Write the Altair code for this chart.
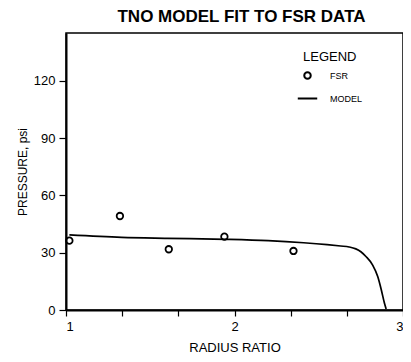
import altair as alt
import pandas as pd

title_text = "TNO MODEL FIT TO FSR DATA"
x_title = "RADIUS RATIO"
y_title = "PRESSURE, psi"
legend_title = "LEGEND"
legend_labels = ["FSR", "MODEL"]

fsr_x = [1.02, 1.32, 1.61, 1.94, 2.35]
fsr_y = [36.3, 49.2, 31.8, 38.4, 30.9]

model_x = [1.02, 1.33, 1.60, 1.95, 2.20, 2.41, 2.55, 2.63, 2.68, 2.72, 2.75,
           2.78, 2.82, 2.85, 2.87, 2.89, 2.90]
model_y = [39.3, 38.0, 37.5, 37.0, 36.3, 35.2, 34.2, 33.5, 33.0, 32.0, 30.5,
           28.0, 23.5, 17.5, 11.0, 3.5, 0.5]

x_ticks = [1, 4 / 3, 5 / 3, 2, 7 / 3, 8 / 3, 3]
y_ticks = [0, 30, 60, 90, 120]

FONT = "Liberation Sans"

pts = pd.DataFrame({"x": fsr_x, "y": fsr_y, "series": ["FSR"] * len(fsr_x)})
mdl = pd.DataFrame({"x": model_x, "y": model_y})

x_scale = alt.Scale(domain=[1, 3], nice=False, zero=False)
y_scale = alt.Scale(domain=[0, 145], nice=False)

x_axis = alt.Axis(
    values=x_ticks, title=x_title, grid=False, tickSize=6, tickWidth=1.2,
    labelExpr="abs(datum.value - round(datum.value)) < 0.01 ? format(datum.value, 'd') : ''",
    labelFontSize=13, titleFontSize=13, titleFontWeight="normal",
    labelPadding=4, titleY=37, titleBaseline="middle", domainWidth=2,
)
y_axis = alt.Axis(
    values=y_ticks, title=y_title, grid=False, tickSize=7, tickWidth=1.2,
    labelFontSize=13, titleFontSize=12, titleFontWeight="normal",
    labelPadding=4, titleX=-44, titleBaseline="middle", domainWidth=2,
)

line = alt.Chart(mdl).mark_line(color="black", strokeWidth=1.7, interpolate="monotone").encode(
    x=alt.X("x:Q", scale=x_scale, axis=x_axis),
    y=alt.Y("y:Q", scale=y_scale, axis=y_axis),
)

points = alt.Chart(pts).mark_point(
    filled=False, color="black", strokeWidth=1.8, size=42, opacity=1
).encode(
    x=alt.X("x:Q", scale=x_scale),
    y=alt.Y("y:Q", scale=y_scale),
    shape=alt.Shape(
        "series:N",
        scale=alt.Scale(domain=legend_labels, range=["circle", "M-3,0L3,0"]),
        legend=alt.Legend(
            title=legend_title, orient="none", legendX=237, legendY=18,
            titleFontSize=13, titleFontWeight="normal", titlePadding=7,
            labelFontSize=9, labelOffset=18, rowPadding=11,
            symbolSize=42, symbolStrokeWidth=2, symbolStrokeColor="black",
            symbolFillColor="white", symbolType="circle",
        ),
    ),
)

chart = alt.layer(line, points).properties(
    width=337, height=277,
    title=alt.TitleParams(title_text, fontSize=17, fontWeight="bold", anchor="middle",
                          dx=7, offset=7, font=FONT),
    autosize=alt.AutoSizeParams(type="none"),
    padding={"left": 58, "top": 25, "right": 0, "bottom": 44},
).configure(font=FONT).configure_view(
    stroke="black", strokeWidth=1.5
).configure_axis(
    domainColor="black", tickColor="black", labelColor="black", titleColor="black",
    labelFont=FONT, titleFont=FONT,
).configure_legend(labelFont=FONT, titleFont=FONT, labelColor="black", titleColor="black")

chart.save("out.html", embed_options={"renderer": "svg", "actions": False})
